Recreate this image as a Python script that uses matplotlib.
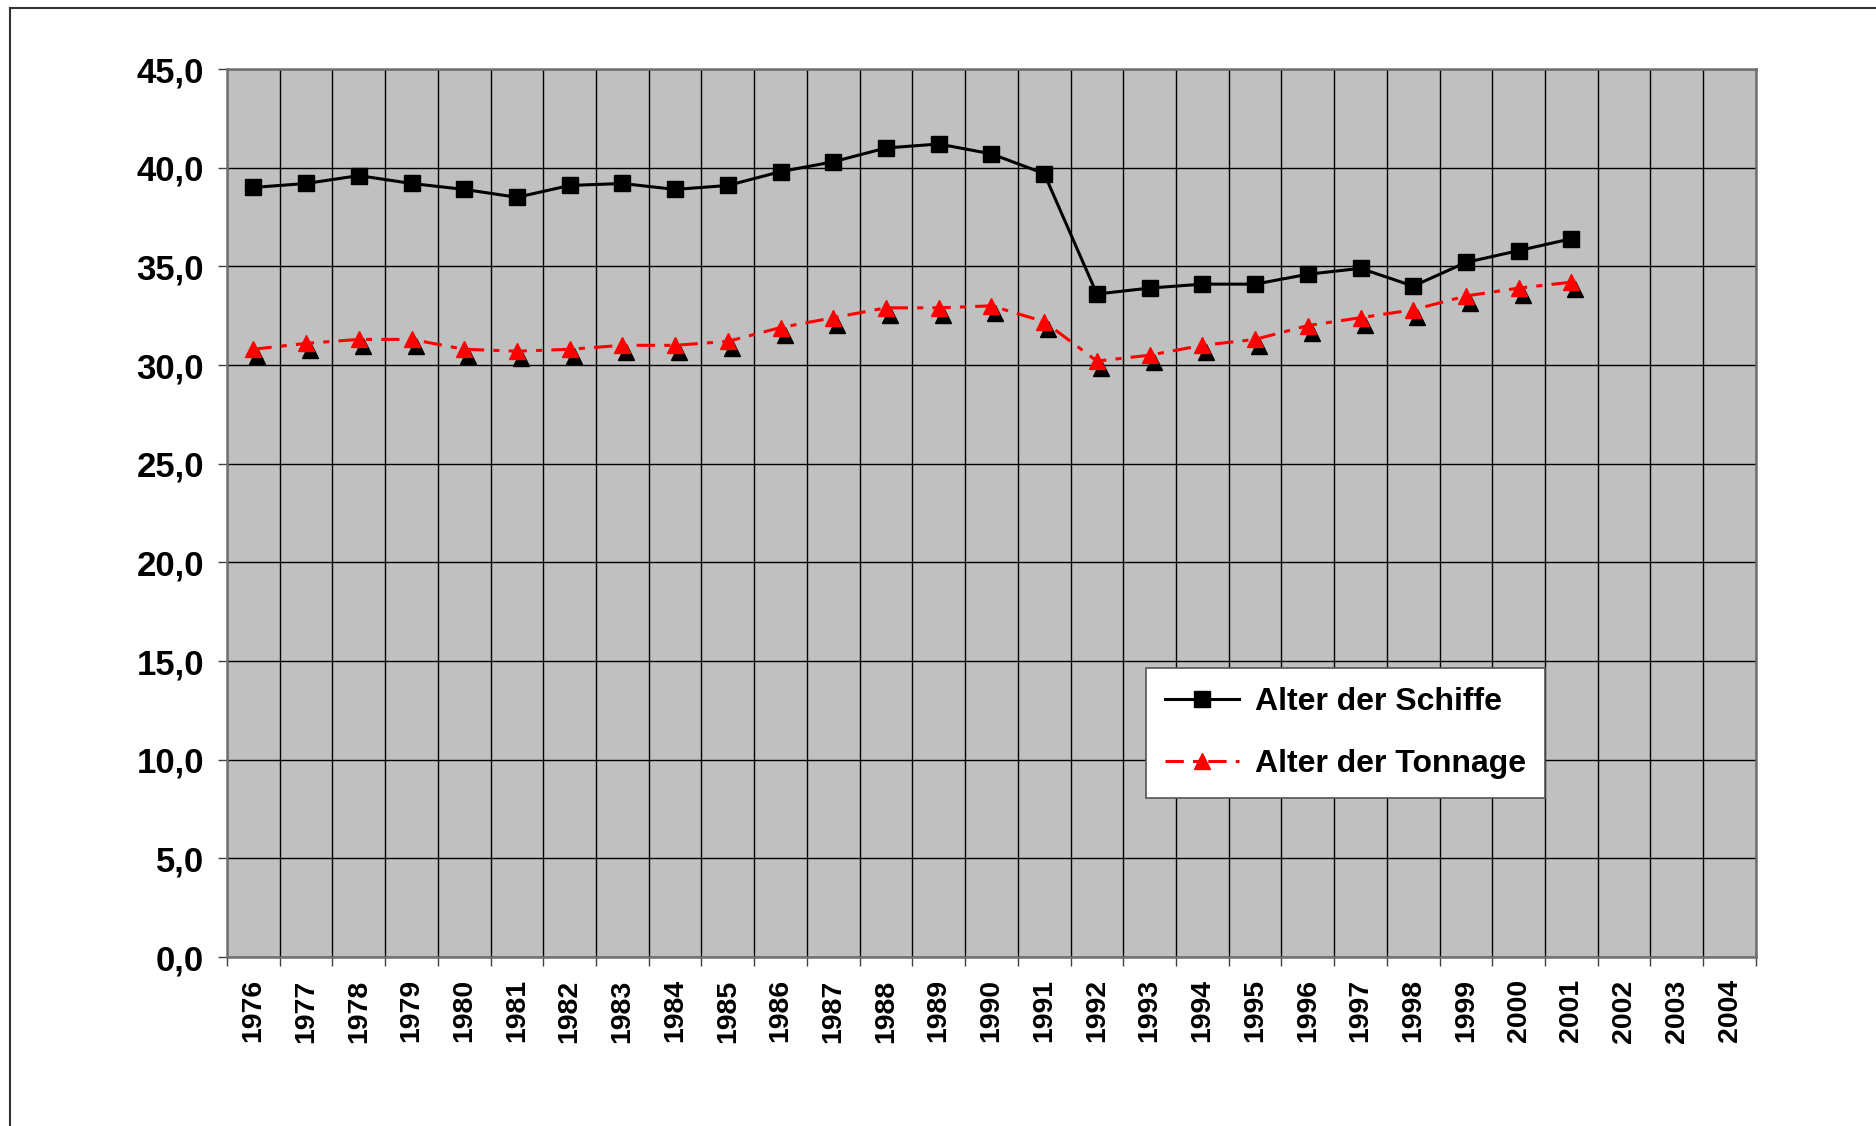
import matplotlib
matplotlib.use('Agg')
import matplotlib.pyplot as plt
import matplotlib.transforms as mtransforms
from matplotlib.lines import Line2D
import numpy as np

# Daten
jahre = [str(j) for j in range(1976, 2005)]
jahre_daten = list(range(1976, 2002))
alter_schiffe = [39.0, 39.2, 39.6, 39.2, 38.9, 38.5, 39.1, 39.2, 38.9, 39.1,
                 39.8, 40.3, 41.0, 41.2, 40.7, 39.7, 33.6, 33.9, 34.1, 34.1,
                 34.6, 34.9, 34.0, 35.2, 35.8, 36.4]
alter_tonnage = [30.8, 31.1, 31.3, 31.3, 30.8, 30.7, 30.8, 31.0, 31.0, 31.2,
                 31.9, 32.4, 32.9, 32.9, 33.0, 32.2, 30.2, 30.5, 31.0, 31.3,
                 32.0, 32.4, 32.8, 33.5, 33.9, 34.2]
y_ticks = np.arange(0, 45.1, 5)

plt.rcParams.update({
    'font.family': ['Liberation Sans', 'DejaVu Sans'],
    'font.weight': 'bold',
})

fig = plt.figure(figsize=(18.76, 11.26), dpi=100)
ax = fig.add_axes([0.121, 0.150, 0.815, 0.7887])
ax.set_facecolor('#C0C0C0')

x = np.arange(len(jahre_daten))

ax.plot(x, alter_schiffe, '-', color='black', lw=2.2, marker='s',
        markersize=11, label='Alter der Schiffe', zorder=4)

# Schatten der Dreiecke
shadow = mtransforms.offset_copy(ax.transData, fig=fig, x=4, y=-7, units='dots')
ax.plot(x, alter_tonnage, ls='none', marker='^', color='black',
        markersize=12, transform=shadow, zorder=3)
ax.plot(x, alter_tonnage, color='#FF0000', lw=2.2, ls=(0, (6, 3, 2, 3)),
        marker='^', markersize=12, label='Alter der Tonnage', zorder=4)

ax.set_xlim(-0.5, len(jahre) - 0.5)
ax.set_ylim(0, 45)
ax.set_xticks(np.arange(len(jahre)))
ax.set_xticklabels(jahre, rotation=90, fontsize=20.5, fontweight='bold')
ax.set_xticks(np.arange(len(jahre) + 1) - 0.5, minor=True)
ax.tick_params(axis='x', which='major', length=0, pad=16)
ax.tick_params(axis='x', which='minor', length=6.5, width=1, color='#404040')

ax.set_yticks(y_ticks)
ax.set_yticklabels([f'{v:.1f}'.replace('.', ',') for v in y_ticks],
                   fontsize=25, fontweight='bold')
ax.tick_params(axis='y', length=6.5, width=1, color='#404040', pad=10)

ax.grid(True, axis='x', which='minor', color='black', lw=1)
ax.grid(True, axis='y', which='major', color='black', lw=1)
ax.set_axisbelow(True)
for s in ax.spines.values():
    s.set_color('#707070')
    s.set_linewidth(1.8)

leg = ax.legend(loc='upper left', bbox_to_anchor=(0.601, 0.3255),
                borderaxespad=0, fancybox=False, framealpha=1,
                edgecolor='#555555', prop={'size': 23, 'weight': 'bold'},
                handlelength=2.3, labelspacing=1.0, borderpad=0.6,
                handletextpad=0.5)
leg.get_frame().set_linewidth(1.2)

# Rahmen des Diagrammbereichs
fig.add_artist(Line2D([10 / 1876, 10 / 1876], [0, 1 - 8 / 1126],
                      transform=fig.transFigure, color='#333333', lw=1.5))
fig.add_artist(Line2D([10 / 1876, 1], [1 - 8 / 1126, 1 - 8 / 1126],
                      transform=fig.transFigure, color='#333333', lw=1.5))

fig.savefig('out.png', dpi=100)
plt.close(fig)
